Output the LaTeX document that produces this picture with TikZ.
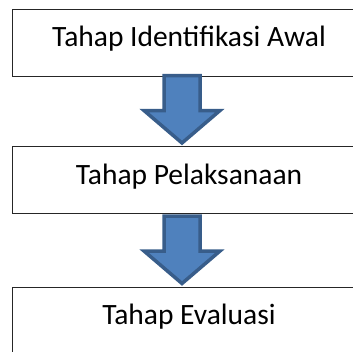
\documentclass[tikz,border=0pt]{standalone}
\usepackage{fontspec}
\setmainfont{Carlito}
\usetikzlibrary{calc}
\definecolor{arrowfill}{HTML}{4F81BD}
\definecolor{arrowline}{HTML}{385D8A}
\tikzset{
  stagebox/.style={draw=black!85, line width=1pt, fill=white, minimum width=354pt,
    inner sep=0pt, text height=37.5pt, text depth=29.5pt, font=\fontsize{29.5}{33}\selectfont},
  blockarrow/.style={fill=arrowfill, draw=arrowline, line width=3.5pt, line join=miter}
}
\begin{document}
\begin{tikzpicture}[x=1pt,y=-1pt]
\useasboundingbox (0,0) rectangle (353,351);
\node[stagebox] (a) at (189,42.5) {Tahap Identifikasi Awal};
\node[stagebox] (b) at (189,180) {Tahap Pelaksanaan};
\node[stagebox] (c) at (189,320.5) {Tahap Evaluasi};
\draw[blockarrow] ($(a.south)+(-25,-1)$) -- ++(0,35) -- ++(-20,0) -- ++(38,32.5) -- ++(38,-32.5) -- ++(-20,0) -- ++(0,-35) -- cycle;
\draw[blockarrow] ($(b.south)+(-25,2)$) -- ++(0,35) -- ++(-20,0) -- ++(38,32.5) -- ++(38,-32.5) -- ++(-20,0) -- ++(0,-35) -- cycle;
\end{tikzpicture}
\end{document}
